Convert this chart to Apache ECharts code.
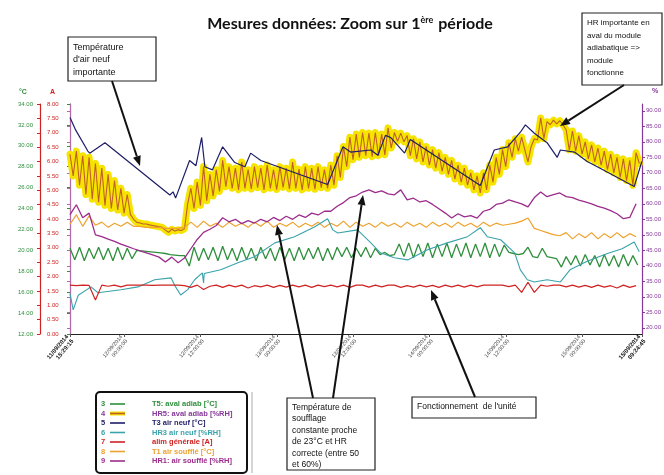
<!DOCTYPE html>
<html><head><meta charset="utf-8">
<script src="https://cdn.jsdelivr.net/npm/echarts@6/dist/echarts.min.js"></script>
<style>html,body{margin:0;padding:0;background:#fff}#c{width:664px;height:475px}</style>
</head><body><div id="c"></div>
<script>
// ---- time axis (hours since 11/09/2014 15:29:15) ----
const xMaxHours = 89.925;
const xTickHours = [0, 8.5125, 20.5125, 32.5125, 44.5125, 56.5125, 68.5125, 80.5125, 89.925];
const xTickLabels = ['11/09/2014\n15:29:15', '12/09/2014\n00:00:00', '12/09/2014\n12:00:00', '13/09/2014\n00:00:00',
  '13/09/2014\n12:00:00', '14/09/2014\n00:00:00', '14/09/2014\n12:00:00', '15/09/2014\n00:00:00', '15/09/2014\n09:24:45'];
const hrTicks = [20, 25, 30, 35, 40, 45, 50, 55, 60, 65, 70, 75, 80, 85, 90];

// ---- series names ----
const seriesNames = ['T5: aval adiab [°C]', 'HR5: aval adiab [%RH]', 'T3 air neuf [°C]', 'HR3 air neuf [%RH]',
  'alim générale [A]', 'T1 air soufflé [°C]', 'HR1: air soufflé [%RH]'];

// HR5 aval adiab [%RH] : one reading every 0.5 h
const hr5Step = 0.5;
const hr5Values = [76,69, 77,66, 75.5,63, 75,61.5, 73,60.5, 71.5,59.5, 69.5,58.5, 67.5,58, 65,57, 63,56.5,
  55,54, 53.8,53.5, 53.5,53.2, 53,52.8, 52.6,52.4, 51.5,50.8, 51.8,51.2, 51.6,51.4, 52,60, 65,58.5,
  67,59.5, 72,61, 69.5,62.5, 71,64, 74,65.5, 72,65, 71.5,64.5, 73.5,65, 71,64.8, 72,65.2,
  71.5,64.5, 72.5,65, 71,64.6, 72,65.3, 71.5,64.8, 73.5,65, 71.2,64.5, 72,65, 71.5,64.7, 72,65.2,
  71,65, 72.5,66, 75.5,68.5, 78.5,72, 81.5,74.2, 82.5,75, 83,75.5, 82.8,75.2, 83,75.5, 82.5,75.8,
  84.5,78, 83,80.2, 82.8,80, 82,75.5, 81,74.5, 80,73.5, 78.5,72.5, 77.5,71.5, 76.5,70.5, 75,69.5,
  74,68, 72.5,67, 71.5,66, 70,64.5, 69,63.5, 70,64.5, 72.5,67, 75,69.5, 77.5,72, 79.7,75,
  81,77, 81.5,77.5, 73.5,78.5, 81,80.6, 87.7,81, 86.5,85.5, 87,85.8, 86.8,85.5, 83.9,77.4, 83.5,77,
  82,76, 80,74.5, 79,73.5, 78,72.5, 77,71, 76,70, 75,68.5, 74.5,67.5, 74,66, 76.5,73];

// T5 aval adiab [°C] : one reading every 0.75 h
const t5Step = 0.75;
const t5Values = [20.2,19.1,20.3,19.0,20.2,19.2,20.3,19.1,20.2,19.0,20.3,19.1,20.2,19.2,
  20.0,19.95,19.9,19.85,19.8,19.75,19.7,19.6,19.55,19.5,19.5,
  18.5,20.3,19.0,20.2,19.1,20.3,19.0,20.4,19.1,20.2,19.0,20.3,19.1,20.2,19.0,20.3,19.2,20.2,19.0,20.3,19.1,20.2,19.0,20.3,19.1,20.2,19.2,20.3,19.0,20.2,19.1,20.3,
  19.4,20.3,19.3,20.2,19.4,20.3,19.3,20.2,
  19.6,19.8,19.5,19.6,
  20.6,19.4,20.7,19.3,20.6,19.4,20.7,19.3,20.6,19.4,20.7,19.3,20.6,19.4,20.7,19.3,20.6,19.4,20.7,19.3,20.6,19.4,20.5,
  19.8,19.7,19.6,19.7,
  20.3,19.4,19.3,20.2,19.4,19.3,19.2,18.4,
  19.4,18.6,19.5,18.5,19.6,18.6,19.5,18.4,19.6,18.5,19.5,18.4,19.6,18.5,19.5,18.6];

// T1 air soufflé [°C], HR1 air soufflé [%RH], alim générale [A] : one reading per hour
const hourlyStep = 1;
const t1Values = [22.5,23.4,22.3,23.3,22.4,22.7,22.2,22.6,22.3,22.7,
  22.3,22.3,22.2,22.2,22.2,22.1,22.1,22.1,22.2,
  22.7,22.2,22.8,22.3,22.6,22.2,22.7,22.3,22.6,22.2,22.7,22.3,22.8,22.2,22.6,22.3,22.7,22.2,22.6,22.3,22.7,22.2,22.6,22.3,22.8,22.2,22.7,22.3,22.6,22.2,22.7,22.3,22.6,22.2,
  22.7,22.3,22.6,22.2,22.7,22.3,22.6,22.2,22.7,22.3,22.6,22.2,22.7,22.3,22.6,22.4,22.5,
  22.6,22.8,23.1,
  22.1,21.9,21.7,21.5,21.4,
  21.7,21.1,21.6,21.2,21.7,21.1,21.6,21.2,21.7,21.2,21.6,21.3];
const hr1Values = [56.5,59.7,55.5,57.0,50.0,49.4,48.6,47.9,47.0,46.3,45.5,44.8,44.2,43.5,42.8,41.2,42.8,41.0,42.5,45.5,
  48.5,50.8,51.8,53.0,55.5,54.2,55.0,53.6,54.6,53.8,55.0,54.2,55.6,54.6,56.0,55.0,56.4,55.6,57.0,56.4,
  57.6,57.6,59.2,60.4,62.0,62.6,63.8,64.5,63.6,64.2,63.2,62.9,64.5,61.3,61.8,60.6,61.0,59.8,58.4,57.0,
  55.4,56.8,55.8,56.2,55.4,57.6,58.2,59.8,60.2,61.3,60.6,60.0,59.0,62.0,63.8,62.3,63.0,63.5,62.3,62.0,
  61.2,60.6,60.0,59.2,58.6,57.8,56.8,55.2,55.6,60.0];
const alimValues = [1.70,1.68,1.70,1.69,1.18,1.70,1.66,1.70,1.64,1.70,1.70,1.70,1.70,1.69,1.70,1.70,1.70,1.70,1.68,1.62,
  1.70,1.55,1.66,1.70,1.62,1.70,1.64,1.70,1.60,1.68,1.64,1.70,1.62,1.69,1.63,1.70,1.64,1.70,1.62,1.70,
  1.65,1.70,1.64,1.70,1.62,1.70,1.70,1.63,1.70,1.64,1.70,1.70,1.62,1.68,1.63,1.70,1.64,1.69,1.62,1.70,
  1.64,1.70,1.63,1.70,1.64,1.70,1.70,1.70,1.70,1.65,1.70,1.45,1.80,1.45,1.70,1.66,1.70,1.70,1.64,1.70,
  1.63,1.69,1.62,1.70,1.63,1.68,1.60,1.70,1.62,1.68];

// T3 air neuf [°C] and HR3 air neuf [%RH] : readings at logged times (hours)
const t3Hours = [0,0.9,2.8,3.1,5.5,15.7,16.2,16.6,18.8,19.8,20.7,21.2,22.4,24.0,25.9,27.5,28.4,30.0,40.5,42.9,
  44.1,47.3,48.4,49.6,50.4,52.6,53.5,64.5,66.7,68.8,70.8,71.6,73.0,75.0,76.6,77.1,79.3,81.3,82.9,88.7,89.9];
const t3Values = [32.7,31.5,29.5,29.3,30.3,25.3,25.6,25.0,28.6,28.1,30.8,28.0,27.7,29.9,28.4,28.0,29.3,28.6,26.3,29.9,
  29.4,29.6,29.1,31.0,30.8,29.3,30.6,26.2,29.6,29.9,31.3,32.0,31.2,30.3,28.9,29.6,29.4,28.5,28.0,26.1,28.5];
const hr3Hours = [0,0.5,1.3,3.3,4.4,8.0,10.7,13.3,15.9,16.6,17.4,18.5,19.6,20.8,21.0,21.1,23.7,26.4,29.0,32.2,
  35.3,38.5,40.5,41.3,42.1,45.2,47.3,48.8,51.0,53.1,56.2,59.3,62.5,64.5,65.6,67.7,69.9,70.8,71.9,73.0,
  75.0,77.1,78.6,81.3,84.5,86.8,88.7,89.5];
const hr3Values = [31.0,25.8,30.5,33.2,31.3,32.3,33.2,35.5,36.1,33.2,30.6,32.3,35.5,37.7,34.5,37.5,38.7,41.0,42.9,47.4,
  49.4,52.6,55.2,51.6,50.6,51.6,47.4,44.2,42.6,41.9,45.2,47.4,49.4,52.3,49.4,48.4,44.2,38.7,35.5,34.8,
  35.5,34.8,38.7,41.5,44.0,45.5,47.7,44.5];

// ---- helpers to pair readings with their times ----
const stepped = (vals, step) => vals.map((v, i) => [i * step, v]);
const paired = (hrs, vals) => vals.map((v, i) => [hrs[i], v]);

const C = { green: '#2f8f3c', red: '#cf2222', purple: '#86389a', navy: '#1d1d66', teal: '#3aa3ab',
  orange: '#eea12c', magenta: '#9c2c8c', yellow: '#f6e400', hr5: '#c0602a' };
const F = 'Liberation Sans, Arial, sans-serif';

const chart = echarts.init(document.getElementById('c'), null, { renderer: 'canvas' });

function arrow(x1, y1, x2, y2) {
  const a = Math.atan2(y2 - y1, x2 - x1), L = 10, W = 4;
  const bx = x2 - L * Math.cos(a), by = y2 - L * Math.sin(a);
  const px = -Math.sin(a) * W, py = Math.cos(a) * W;
  return [
    { type: 'line', shape: { x1, y1, x2: bx, y2: by }, style: { stroke: '#111', lineWidth: 2 }, z: 100 },
    { type: 'polygon', shape: { points: [[x2, y2], [bx + px, by + py], [bx - px, by - py]] }, style: { fill: '#111' }, z: 100 }
  ];
}
function box(x, y, w, h, lines, fs, lh, pad) {
  return [
    { type: 'rect', shape: { x, y, width: w, height: h }, style: { fill: '#fff', stroke: '#222', lineWidth: 1.2 }, z: 99 },
    { type: 'text', x: x + (pad || 5), y: y + 4, style: { text: lines.join('\n'), font: fs + 'px ' + F, fill: '#111', lineHeight: lh }, z: 101 }
  ];
}

const legendColors = [C.green, C.purple, C.navy, C.teal, C.red, C.orange, C.magenta];
const legendLine = [C.green, C.hr5, C.navy, C.teal, C.red, C.orange, C.magenta];
const legendEls = [
  { type: 'rect', shape: { x: 96, y: 392, width: 151, height: 81, r: 4 }, style: { fill: '#fff', stroke: '#111', lineWidth: 2 }, z: 99 },
  { type: 'line', shape: { x1: 252, y1: 392, x2: 252, y2: 473 }, style: { stroke: '#aaa', lineWidth: 1 }, z: 99 }
];
seriesNames.forEach((n, k) => {
  const y = 404 + k * 9.5;
  legendEls.push({ type: 'text', x: 101, y: y, style: { text: String(k + 3), font: 'bold 7.5px ' + F, fill: legendColors[k], verticalAlign: 'middle' }, z: 101 });
  if (k === 1) legendEls.push({ type: 'line', shape: { x1: 110, y1: y, x2: 125, y2: y }, style: { stroke: C.yellow, lineWidth: 4 }, z: 100 });
  legendEls.push({ type: 'line', shape: { x1: 110, y1: y, x2: 125, y2: y }, style: { stroke: legendLine[k], lineWidth: 1.6 }, z: 101 });
  legendEls.push({ type: 'text', x: 152, y: y, style: { text: n, font: 'bold 7.5px ' + F, fill: legendColors[k], verticalAlign: 'middle' }, z: 101 });
});

const graphic = [].concat(
  box(68, 37, 88, 44, ['Température', "d'air neuf", 'importante'], 9, 12.5),
  box(582, 13, 80, 72, ['HR importante en', 'aval du module', 'adiabatique =>', 'module', 'fonctionne'], 8, 12.5, 5),
  box(287, 398, 88, 72, ['Température de', 'soufflage', 'constante proche', 'de 23°C et HR', 'correcte (entre 50', 'et 60%)'], 8.5, 11.4),
  box(412, 397, 124, 21, ['Fonctionnement  de l\'unité'], 8.5, 12),
  arrow(112, 81, 140, 166),
  arrow(624, 85, 560, 126),
  arrow(313, 398, 277, 225),
  arrow(333, 398, 363, 195),
  arrow(475, 397, 431, 290),
  legendEls,
  [
    { type: 'text', x: 19, y: 89, style: { text: '°C', font: 'bold 7px ' + F, fill: C.green } },
    { type: 'text', x: 50, y: 89, style: { text: 'A', font: 'bold 7px ' + F, fill: C.red } },
    { type: 'text', x: 652, y: 88, style: { text: '%', font: 'bold 7px ' + F, fill: C.purple } }
  ]
);

function xLabel(value) {
  let idx = 0, best = 1e9;
  xTickHours.forEach((h, i) => { if (Math.abs(h - value) < best) { best = Math.abs(h - value); idx = i; } });
  const parts = xTickLabels[idx].split('\n');
  const tag = (idx === 0 || idx === xTickHours.length - 1) ? 'b' : 'n';
  return parts.map(p => '{' + tag + '|' + p + '}').join('\n');
}

const lineBase = { type: 'line', showSymbol: false, symbol: 'none', animation: false, silent: true };

chart.setOption({
  animation: false,
  backgroundColor: '#fff',
  title: {
    text: '{a|Mesures données: Zoom sur 1}{s|ère}{a| période}',
    left: 345, top: 8, textAlign: 'center',
    textStyle: { rich: {
      a: { fontFamily: 'Lato, Open Sans, sans-serif', fontSize: 16, color: '#111', lineHeight: 22 },
      s: { fontFamily: 'Lato, Open Sans, sans-serif', fontSize: 9, color: '#111', lineHeight: 22, verticalAlign: 'top', padding: [3, 1, 0, 0] }
    } }
  },
  grid: { left: 70, right: 19, top: 104, bottom: 141, containLabel: false },
  xAxis: {
    type: 'value', min: 0, max: xMaxHours,
    axisLine: { lineStyle: { color: '#222', width: 1 } },
    axisTick: { show: true, customValues: xTickHours, length: 3, lineStyle: { color: '#555' } },
    splitLine: { show: false },
    axisLabel: {
      customValues: xTickHours, rotate: 50, margin: 4, formatter: xLabel,
      rich: {
        n: { fontFamily: F, fontSize: 5.5, color: '#444', lineHeight: 6.5 },
        b: { fontFamily: F, fontSize: 6, fontWeight: 'bold', color: '#111', lineHeight: 7 }
      }
    }
  },
  yAxis: [
    { type: 'value', min: 12, max: 34, interval: 2, position: 'left', offset: 58,
      axisLine: { show: true, lineStyle: { color: C.green, width: 1.2 } },
      axisTick: { show: true, inside: false, length: 3, lineStyle: { color: C.green } },
      axisLabel: { inside: true, margin: 6, fontSize: 6, fontFamily: F, color: C.green, formatter: v => v.toFixed(2) },
      splitLine: { show: false } },
    { type: 'value', min: 0, max: 8, interval: 0.5, position: 'left', offset: 30,
      axisLine: { show: true, lineStyle: { color: C.red, width: 1.2 } },
      axisTick: { show: true, inside: false, length: 3, lineStyle: { color: C.red } },
      axisLabel: { inside: true, margin: 7, fontSize: 6, fontFamily: F, color: C.red, formatter: v => v.toFixed(2) },
      splitLine: { show: false } },
    { type: 'value', min: 18, max: 92.2, position: 'right',
      axisLine: { show: true, lineStyle: { color: C.purple, width: 1.2 } },
      axisTick: { show: true, customValues: hrTicks, length: 3, lineStyle: { color: C.purple } },
      axisLabel: { customValues: hrTicks, margin: 4, fontSize: 6, fontFamily: F, color: C.purple, formatter: v => v.toFixed(2) },
      splitLine: { show: false } },
    { type: 'value', min: 18, max: 92.2, position: 'left', offset: 0,
      axisLine: { show: true, lineStyle: { color: '#b56aa8', width: 1 } },
      axisTick: { show: true, customValues: hrTicks, length: 3, lineStyle: { color: '#b56aa8' } },
      axisLabel: { show: false }, splitLine: { show: false } }
  ],
  series: [
    Object.assign({}, lineBase, { name: seriesNames[1] + ' (highlight)', yAxisIndex: 2, data: stepped(hr5Values, hr5Step),
      lineStyle: { color: C.yellow, width: 7, join: 'round', cap: 'round' }, z: 1 }),
    Object.assign({}, lineBase, { name: seriesNames[1], yAxisIndex: 2, data: stepped(hr5Values, hr5Step),
      lineStyle: { color: C.hr5, width: 1.1 }, z: 2 }),
    Object.assign({}, lineBase, { name: seriesNames[0], yAxisIndex: 0, data: stepped(t5Values, t5Step),
      lineStyle: { color: C.green, width: 1.3 }, z: 3 }),
    Object.assign({}, lineBase, { name: seriesNames[5], yAxisIndex: 0, data: stepped(t1Values, hourlyStep),
      lineStyle: { color: C.orange, width: 1.2 }, z: 3 }),
    Object.assign({}, lineBase, { name: seriesNames[6], yAxisIndex: 2, data: stepped(hr1Values, hourlyStep),
      lineStyle: { color: C.magenta, width: 1.3 }, z: 3 }),
    Object.assign({}, lineBase, { name: seriesNames[3], yAxisIndex: 2, data: paired(hr3Hours, hr3Values),
      lineStyle: { color: C.teal, width: 1.1 }, z: 3 }),
    Object.assign({}, lineBase, { name: seriesNames[4], yAxisIndex: 1, data: stepped(alimValues, hourlyStep),
      lineStyle: { color: C.red, width: 1.2 }, z: 3 }),
    Object.assign({}, lineBase, { name: seriesNames[2], yAxisIndex: 0, data: paired(t3Hours, t3Values),
      lineStyle: { color: C.navy, width: 1.2 }, z: 4 })
  ],
  graphic: graphic
});
</script>
</body></html>
